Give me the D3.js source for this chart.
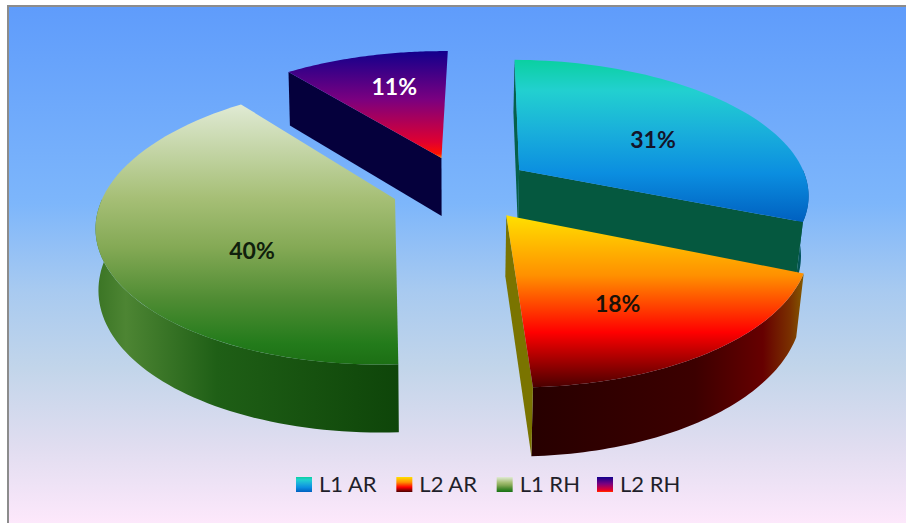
<!DOCTYPE html>
<html><head><meta charset="utf-8">
<script src="https://cdn.jsdelivr.net/npm/d3@7"></script>
<style>html,body{margin:0;padding:0;background:#fff;overflow:hidden}svg{display:block}text{font-family:Lato,Carlito,sans-serif}</style>
</head><body>
<svg id="c" width="906" height="523"></svg>
<script>
// ---- data ----
const categories = ["L1 AR", "L2 AR", "L1 RH", "L2 RH"];
const shares = [31, 18, 40, 11];
// ---- styling ----
const topStops = [
  [[0,"#0ad0a0"],[0.19,"#22d0d0"],[0.45,"#19aedb"],[0.7,"#0b8ee0"],[1,"#0060c0"]],
  [[0,"#ffe000"],[0.35,"#ff9000"],[0.68,"#ff0000"],[1,"#4a0000"]],
  [[0,"#e0ead4"],[0.36,"#a6bf76"],[0.55,"#84a955"],[0.75,"#4f8c33"],[0.92,"#237b1b"],[1,"#1c6f14"]],
  [[0,"#12008c"],[0.45,"#7a0080"],[0.85,"#e00030"],[0.96,"#ff1000"],[1,"#ff8000"]]
];
const wallStops = [
  [[0,"#05583f"],[1,"#004c90"]],
  [[0,"#270000"],[0.6,"#3c0000"],[0.85,"#660000"],[0.95,"#7a3000"],[1,"#845a00"]],
  [[0,"#3a7424"],[0.1,"#4d8533"],[0.4,"#1f5f16"],[1,"#0e4509"]],
  [[0,"#05003c"],[1,"#05003c"]]
];
const sideColors = [
  {start:"#05604a", end:"#05583f"},
  {start:"#7a7400", end:"#7a7400"},
  {start:null, end:null},
  {start:"#05003c", end:null}
];
const labelColors = ["#14142a","#1a1208","#10200c","#ffffff"];
const labelNudge = [[2,10],[-5,12],[30,22],[1,-7]];
const explodeBy = [0.237,0.25,0.247,0.237];
const radiusBy = [1,0.99,0.995,1];
const drawOrder = [3,2,0,1];

const W=906,H=523;
const svg=d3.select("#c");
const defs=svg.append("defs");
function grad(id,stops,horizontal){
  const g=defs.append("linearGradient").attr("id",id)
    .attr("x1",0).attr("y1",0).attr("x2",horizontal?1:0).attr("y2",horizontal?0:1);
  g.selectAll("stop").data(stops).join("stop").attr("offset",d=>d[0]).attr("stop-color",d=>d[1]);
}
grad("bg",[[0,"#5f9cfb"],[0.38,"#7db6fb"],[0.55,"#a8caf0"],[0.7,"#c2d5ea"],[0.85,"#e0ddf0"],[1,"#fde8fb"]]);
topStops.forEach((s,i)=>grad("top"+i,s,false));
wallStops.forEach((s,i)=>grad("wall"+i,s,true));

// frame + background
svg.append("rect").attr("x",7).attr("y",5).attr("width",W-7).attr("height",H-5).attr("fill","#8c8c8c");
svg.append("rect").attr("x",9).attr("y",7).attr("width",W-9).attr("height",H-7).attr("fill","url(#bg)");

// projection of the pie plane
const cx=463, cy=187, k=0.169, kDepth=0.115;
const rotation=0.8*Math.PI/180;
const sX=d3.scaleLinear().domain([0,1]).range([0,290]);
const sY=d3.scaleLinear().domain([0,1]).range([0,134]);
const sZ=d3.scaleLinear().domain([0,1]).range([0,59.5]);
function project(X,Y,low){
  const w=1-k*Y;
  const dx=sX(X)/w;
  const shrink=low?(dx<0?0.992:0.978):1;
  return [cx+dx*shrink, cy+sY(Y)/w+(low?sZ(1)/(1-kDepth*Y):0)];
}
const pie=d3.pie().sort(null).value(d=>d).startAngle(rotation).endAngle(rotation+2*Math.PI);
const arcs=pie(shares);
const line=d3.line();
const N=60;
const label=[];

drawOrder.forEach(i=>{
  const a=arcs[i], mid=(a.startAngle+a.endAngle)/2;
  const ox=explodeBy[i]*Math.sin(mid), oy=-explodeBy[i]*Math.cos(mid);
  const at=(t,r,low)=>project(ox+radiusBy[i]*r*Math.sin(t),oy-radiusBy[i]*r*Math.cos(t),low);
  const angles=d3.range(N+1).map(j=>a.startAngle+(a.endAngle-a.startAngle)*j/N);
  const g=svg.append("g").attr("class","slice");

  // curved outer wall: only the part turned to the viewer
  const lo=Math.PI/2, hi=3*Math.PI/2;
  const s0=Math.max(a.startAngle,lo), s1=Math.min(a.endAngle,hi);
  if(s1>s0){
    const ts=d3.range(N+1).map(j=>s0+(s1-s0)*j/N);
    const pts=ts.map(t=>at(t,1,false)).concat(ts.slice().reverse().map(t=>at(t,1,true)));
    g.append("path").attr("d",line(pts)+"Z").attr("fill",`url(#wall${i})`);
  }
  // flat cut faces, when they look at the viewer
  [["start",a.startAngle],["end",a.endAngle]].forEach(([n,t])=>{
    const q=[at(t,0,false),at(t,1,false),at(t,1,true),at(t,0,true)];
    const area=d3.polygonArea(q);
    const visible=(n==="start")? area>0 : area<0;
    if(visible && sideColors[i][n]) g.append("path").attr("d",line(q)+"Z").attr("fill",sideColors[i][n]);
  });
  // top
  const topPts=[at(a.startAngle,0,false)].concat(angles.map(t=>at(t,1,false)));
  g.append("path").attr("d",line(topPts)+"Z").attr("fill",`url(#top${i})`);
  const p=at(mid,0.6,false);
  label.push({i,x:p[0]+labelNudge[i][0],y:p[1]+labelNudge[i][1]});
});

svg.append("g").selectAll("text").data(label).join("text")
  .attr("x",d=>d.x).attr("y",d=>d.y).attr("dy","0.35em")
  .attr("text-anchor","middle").attr("font-size",23).attr("font-weight",700)
  .attr("fill",d=>labelColors[d.i]).text(d=>shares[d.i]+"%");

// legend
topStops.forEach((s,i)=>grad("key"+i,s,false));
const legendX=d3.scalePoint().domain(categories).range([296,597]);
const lg=svg.append("g").selectAll("g").data(categories).join("g")
  .attr("transform",d=>`translate(${legendX(d)},477)`);
lg.append("rect").attr("width",16).attr("height",15).attr("fill",(d,i)=>`url(#key${i})`);
lg.append("text").attr("x",23).attr("y",15).attr("font-size",22).attr("fill","#1f1f2a").text(d=>d);
</script>
</body></html>
